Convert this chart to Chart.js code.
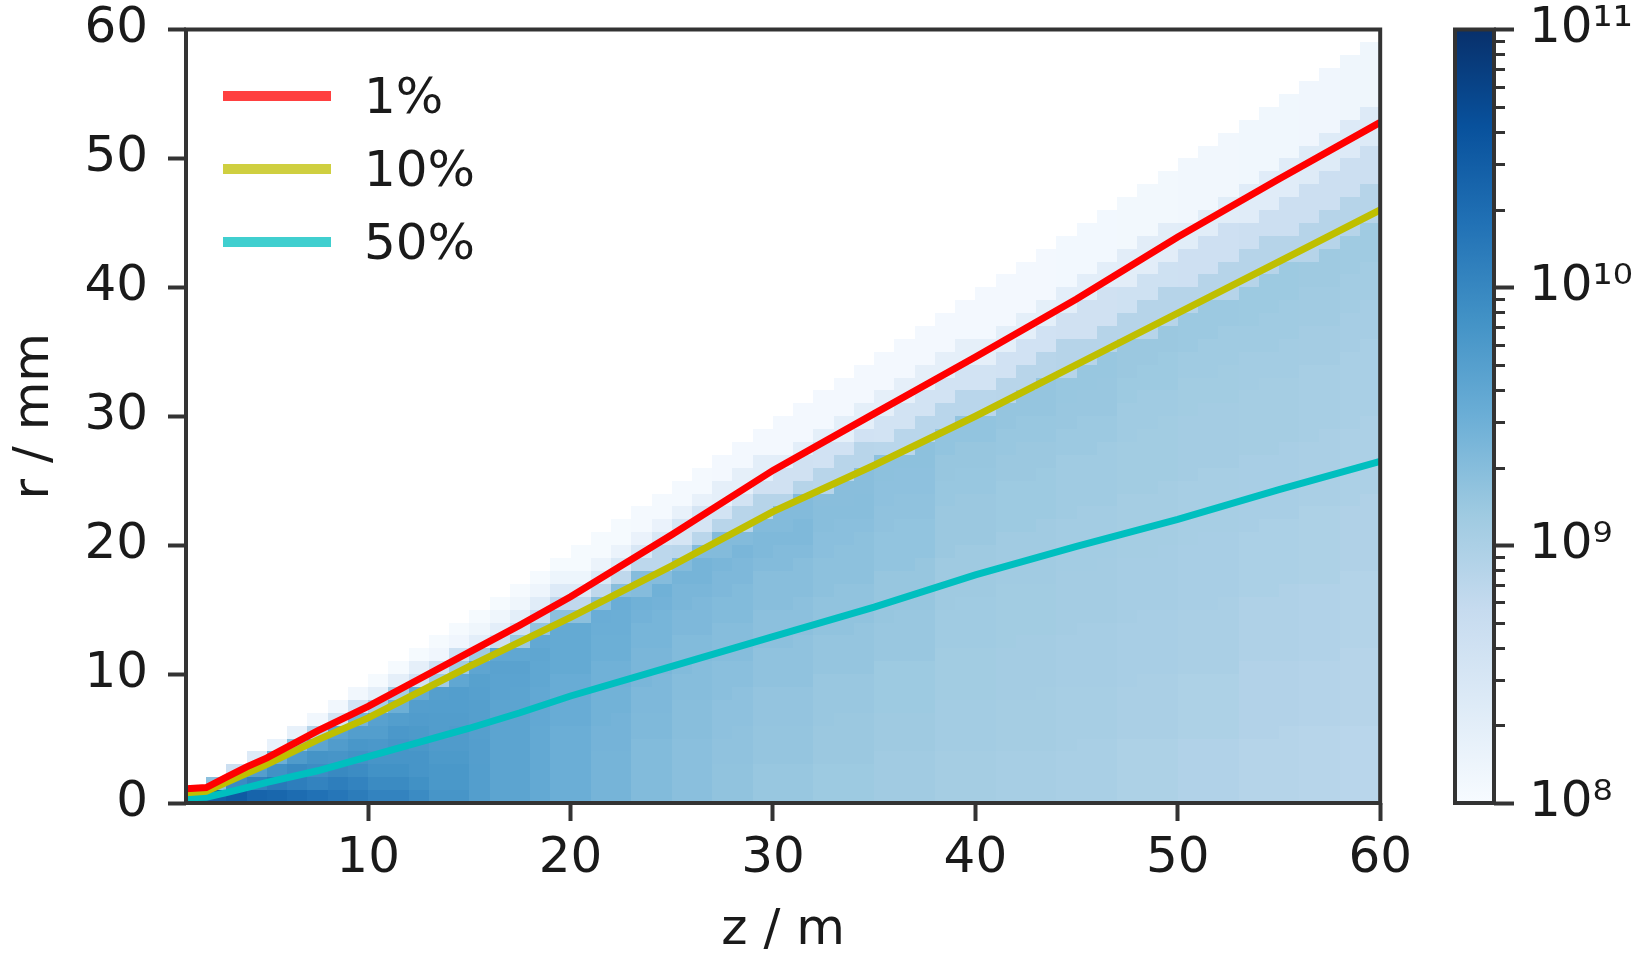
<!DOCTYPE html>
<html>
<head>
<meta charset="utf-8">
<script src="https://cdn.jsdelivr.net/npm/chart.js@4.4.1/dist/chart.umd.min.js"></script>
<style>
html,body{margin:0;padding:0;background:#fff;}
#wrap{position:relative;width:1651px;height:953px;overflow:hidden;background:#fff;}
#main{position:absolute;left:0;top:0;}
#cbar{position:absolute;left:1420px;top:0;}
#legend{position:absolute;font-family:'DejaVu Sans';font-size:50px;color:#1a1a1a;}
#legend .item{display:flex;align-items:center;height:73px;line-height:50px;}
#legend .swatch{width:108px;height:10px;margin-right:33px;}
</style>
</head>
<body>
<div id="wrap">
<canvas id="main" width="1420" height="953"></canvas>
<canvas id="cbar" width="231" height="953"></canvas>
<div id="legend"></div>
</div>
<script>
// ---------------- data ----------------
// contour lines (r in mm at distance z in m)
const zLine  = [1, 2, 3, 4, 5, 7.5, 10, 12.5, 15, 17.5, 20, 25, 30, 35, 40, 45, 50, 55, 60];
const r1pct  = [1.1, 1.2, 2.0, 2.8, 3.5, 5.6, 7.5, 9.6, 11.7, 13.8, 16.0, 20.8, 25.8, 30.2, 34.6, 39.1, 43.9, 48.4, 52.8];
const r10pct = [0.8, 0.9, 1.6, 2.3, 3.0, 4.9, 6.6, 8.6, 10.6, 12.5, 14.4, 18.4, 22.6, 26.2, 30.0, 34.0, 38.0, 42.0, 46.0];
const r50pct = [0.4, 0.45, 0.8, 1.2, 1.6, 2.5, 3.6, 4.7, 5.8, 7.0, 8.3, 10.6, 12.9, 15.2, 17.7, 19.9, 22.0, 24.3, 26.5];
const seriesLabels = ['1%', '10%', '50%'];

// heat map: log10 density read at these z (m) ...
const zSamples = [1.5, 2.5, 3.5, 4.5, 5.5, 6.5, 7.5, 8.5, 9.5, 11, 12.5, 14, 15.5, 17, 18.5, 20,
                  22, 24, 26, 28, 30, 33, 36, 39, 42, 45, 48, 51, 54, 57, 59.5];
// ... in bands of r/z (mm per m), upper edge of each band
const sEdges = [0.1, 0.2, 0.3, 0.4, 0.5, 0.6, 0.65, 0.7, 0.75, 0.8, 0.85, 0.9, 0.99];
const logDensity = [
  [10.85,10.79,10.64,10.46,10.25,9.86,9.50,9.20,8.84,8.45,8.24,8.09,8.03],
  [10.70,10.64,10.46,10.25,9.95,9.56,9.26,8.96,8.60,8.30,8.15,8.06,8.03],
  [10.58,10.52,10.34,10.16,9.95,9.65,9.35,9.05,8.66,8.36,8.15,8.06,8.03],
  [10.46,10.40,10.22,10.07,9.92,9.71,9.44,9.14,8.72,8.39,8.18,8.06,8.03],
  [10.37,10.31,10.16,10.01,9.89,9.74,9.50,9.20,8.78,8.45,8.21,8.06,8.03],
  [10.31,10.23,10.10,9.97,9.87,9.76,9.58,9.28,8.86,8.49,8.23,8.08,8.03],
  [10.25,10.16,10.04,9.93,9.85,9.76,9.63,9.34,8.92,8.52,8.24,8.09,8.03],
  [10.19,10.10,9.98,9.89,9.83,9.74,9.65,9.38,8.96,8.54,8.24,8.09,8.03],
  [10.13,10.04,9.94,9.87,9.81,9.72,9.65,9.42,9.00,8.56,8.26,8.09,8.03],
  [10.04,9.96,9.88,9.83,9.79,9.72,9.67,9.49,9.05,8.58,8.27,8.09,8.03],
  [9.95,9.89,9.83,9.80,9.77,9.74,9.71,9.56,9.08,8.60,8.27,8.09,8.03],
  [9.83,9.80,9.77,9.75,9.73,9.72,9.70,9.60,9.10,8.62,8.29,8.11,8.03],
  [9.72,9.72,9.71,9.70,9.70,9.69,9.68,9.62,9.12,8.64,8.30,8.12,8.03],
  [9.64,9.64,9.64,9.64,9.64,9.65,9.66,9.60,9.14,8.66,8.30,8.12,8.03],
  [9.57,9.57,9.57,9.58,9.58,9.60,9.61,9.58,9.20,8.73,8.34,8.13,8.03],
  [9.50,9.50,9.50,9.53,9.53,9.56,9.56,9.56,9.26,8.81,8.39,8.15,8.03],
  [9.42,9.42,9.43,9.45,9.46,9.49,9.50,9.51,9.29,8.82,8.43,8.18,8.03],
  [9.33,9.33,9.35,9.36,9.39,9.41,9.44,9.46,9.31,8.84,8.47,8.20,8.04],
  [9.27,9.27,9.29,9.30,9.33,9.36,9.39,9.42,9.32,8.86,8.52,8.23,8.05],
  [9.22,9.23,9.24,9.27,9.30,9.33,9.36,9.39,9.32,8.88,8.56,8.27,8.06],
  [9.17,9.19,9.20,9.23,9.26,9.29,9.32,9.35,9.32,8.90,8.60,8.30,8.06],
  [9.13,9.15,9.16,9.19,9.22,9.25,9.27,9.29,9.28,8.88,8.58,8.28,8.06],
  [9.10,9.12,9.13,9.16,9.18,9.21,9.23,9.24,9.25,8.87,8.57,8.27,8.06],
  [9.06,9.08,9.09,9.11,9.12,9.15,9.17,9.18,9.21,8.87,8.57,8.27,8.06],
  [9.04,9.06,9.07,9.09,9.10,9.13,9.15,9.17,9.19,8.88,8.58,8.28,8.06],
  [9.02,9.04,9.05,9.07,9.08,9.11,9.14,9.16,9.17,8.90,8.60,8.30,8.07],
  [8.98,9.01,9.03,9.05,9.06,9.09,9.11,9.13,9.15,8.90,8.62,8.32,8.08],
  [8.95,8.98,9.01,9.03,9.04,9.07,9.09,9.11,9.14,8.90,8.63,8.33,8.09],
  [8.91,8.94,8.97,9.00,9.03,9.06,9.08,9.11,9.13,8.90,8.65,8.35,8.10],
  [8.89,8.92,8.95,8.98,9.01,9.04,9.07,9.10,9.12,8.90,8.66,8.37,8.11],
  [8.87,8.90,8.93,8.96,8.99,9.02,9.05,9.08,9.11,8.90,8.66,8.39,8.12]
];

// axes ticks
const xTicks = [10, 20, 30, 40, 50, 60];
const yTicks = [0, 10, 20, 30, 40, 50, 60];
const cbTicks = [1e8, 1e9, 1e10, 1e11];
const cbTickLabels = ['10\u2078', '10\u2079', '10\u00B9\u2070', '10\u00B9\u00B9'];
const cbRange = [1e8, 1e11];

// ---------------- presentation ----------------
const gridZ = {from: 1, to: 60, step: 1};   // heat-map cell grid
const gridR = {from: 0, to: 60, step: 1};
const lineColors = ['#ff0000', '#bfbf00', '#00bfbf'];
const bluesStops = ['#f7fbff','#deebf7','#c6dbef','#9ecae1','#6baed6','#4292c6','#2171b5','#08519c','#08306b'];
const INK = '#1a1a1a', SPINE = '#333333';
const FONT = "'DejaVu Sans'";

Chart.defaults.font.family = FONT;
Chart.defaults.font.size = 50;
Chart.defaults.color = INK;

function hexToRgb(h){ return [parseInt(h.slice(1,3),16), parseInt(h.slice(3,5),16), parseInt(h.slice(5,7),16)]; }
const bluesRgb = bluesStops.map(hexToRgb);
function blues(t){
  t = Math.max(0, Math.min(1, t));
  const p = t * (bluesRgb.length - 1);
  const i = Math.min(Math.floor(p), bluesRgb.length - 2);
  const f = p - i;
  const a = bluesRgb[i], b = bluesRgb[i+1];
  return 'rgb(' + [0,1,2].map(k => Math.round(a[k] + (b[k]-a[k])*f)).join(',') + ')';
}
const logMin = Math.log10(cbRange[0]), logMax = Math.log10(cbRange[1]);

const heatmapPlugin = {
  id: 'heatmap',
  beforeDatasetsDraw(chart){
    const {ctx, chartArea, scales:{x, y}} = chart;
    ctx.save();
    ctx.beginPath();
    ctx.rect(chartArea.left, chartArea.top, chartArea.right - chartArea.left, chartArea.bottom - chartArea.top);
    ctx.clip();
    for (let z0 = gridZ.from; z0 < gridZ.to; z0 += gridZ.step) {
      const z1 = z0 + gridZ.step, zc = (z0 + z1) / 2;
      let iz = 0, best = Infinity;
      zSamples.forEach((zs, i) => { const d = Math.abs(zs - zc); if (d < best) { best = d; iz = i; } });
      const px0 = Math.round(x.getPixelForValue(z0)), px1 = Math.round(x.getPixelForValue(z1));
      for (let r0 = gridR.from; r0 < gridR.to; r0 += gridR.step) {
        const r1 = r0 + gridR.step, s = ((r0 + r1) / 2) / zc;
        const k = sEdges.findIndex(e => s < e);
        if (k < 0) continue;
        const v = logDensity[iz][k];
        const py0 = Math.round(y.getPixelForValue(r0)), py1 = Math.round(y.getPixelForValue(r1));
        ctx.fillStyle = blues((v - logMin) / (logMax - logMin));
        ctx.fillRect(px0, py1, px1 - px0, py0 - py1);
      }
    }
    ctx.restore();
  },
  afterDatasetsDraw(chart){
    const {ctx, chartArea} = chart;
    ctx.save();
    ctx.strokeStyle = SPINE;
    ctx.lineWidth = 4;
    ctx.strokeRect(chartArea.left, chartArea.top, chartArea.right - chartArea.left, chartArea.bottom - chartArea.top);
    ctx.restore();
  }
};

function pts(rs){ return zLine.map((z, i) => ({x: z, y: rs[i]})); }

const axisGrid = {display: true, drawOnChartArea: false, drawTicks: true, tickLength: 18, tickWidth: 4, tickColor: SPINE, color: SPINE};

const mainChart = new Chart(document.getElementById('main'), {
  type: 'scatter',
  data: {
    datasets: [r1pct, r10pct, r50pct].map((rs, i) => ({
      label: seriesLabels[i],
      data: pts(rs),
      showLine: true,
      borderColor: lineColors[i],
      backgroundColor: lineColors[i],
      borderWidth: 7,
      pointRadius: 0,
      tension: 0
    }))
  },
  options: {
    responsive: false,
    animation: false,
    events: [],
    layout: {padding: {top: 29.5, right: 39, left: 0, bottom: 0}},
    plugins: {legend: {display: false}, tooltip: {enabled: false}},
    scales: {
      x: {
        type: 'linear', min: 1, max: 60,
        afterBuildTicks: s => { s.ticks = xTicks.map(v => ({value: v})); },
        afterFit: s => { s.height = 150; },
        grid: axisGrid,
        border: {display: false},
        ticks: {padding: 8, color: INK, font: {size: 50, lineHeight: 1.2}, maxRotation: 0, autoSkip: false},
        title: {display: true, text: 'z / m', color: INK, font: {size: 50, lineHeight: 0.88}, padding: {top: 0, bottom: 0}}
      },
      y: {
        type: 'linear', min: 0, max: 60,
        afterBuildTicks: s => { s.ticks = yTicks.map(v => ({value: v})); },
        afterFit: s => { s.width = 186; },
        grid: axisGrid,
        border: {display: false},
        ticks: {padding: 20, color: INK, font: {size: 50, lineHeight: 0.2}, autoSkip: false},
        title: {display: true, text: 'r / mm', color: INK, font: {size: 50, lineHeight: 1.2}, padding: {top: 5, bottom: 0}}
      }
    }
  },
  plugins: [heatmapPlugin]
});

// HTML legend built from the chart's datasets
(function buildLegend(chart){
  const box = document.getElementById('legend');
  const ca = chart.chartArea;
  box.style.left = (ca.left + 37) + 'px';
  box.style.top = (ca.top + 30) + 'px';
  chart.data.datasets.forEach(ds => {
    const item = document.createElement('div');
    item.className = 'item';
    const sw = document.createElement('div');
    sw.className = 'swatch';
    sw.style.background = ds.borderColor;
    sw.style.opacity = '0.75';
    const tx = document.createElement('span');
    tx.textContent = ds.label;
    item.appendChild(sw); item.appendChild(tx);
    box.appendChild(item);
  });
})(mainChart);

// ---------------- colour bar ----------------
const cbarPlugin = {
  id: 'cbarFrame',
  afterDraw(chart){
    const {ctx, chartArea, scales:{y}} = chart;
    ctx.save();
    ctx.strokeStyle = SPINE;
    ctx.lineWidth = 3;
    for (let d = logMin; d < logMax; d++) {
      for (let m = 2; m <= 9; m++) {
        const py = Math.round(y.getPixelForValue(m * Math.pow(10, d))) + 0.5;
        ctx.beginPath();
        ctx.moveTo(chartArea.right, py);
        ctx.lineTo(chartArea.right + 11, py);
        ctx.stroke();
      }
    }
    ctx.lineWidth = 4;
    ctx.strokeRect(chartArea.left, chartArea.top, chartArea.right - chartArea.left, chartArea.bottom - chartArea.top);
    ctx.restore();
  }
};

new Chart(document.getElementById('cbar'), {
  type: 'bar',
  data: {
    labels: [''],
    datasets: [{
      data: [cbRange],
      borderWidth: 0,
      barPercentage: 1,
      categoryPercentage: 1,
      backgroundColor: (c) => {
        const chart = c.chart;
        const y = chart.scales.y;
        if (!chart.chartArea || !y) return bluesStops[4];
        const g = chart.ctx.createLinearGradient(0, y.getPixelForValue(cbRange[0]), 0, y.getPixelForValue(cbRange[1]));
        bluesStops.forEach((col, k) => g.addColorStop(k / (bluesStops.length - 1), col));
        return g;
      }
    }]
  },
  options: {
    responsive: false,
    animation: false,
    events: [],
    layout: {padding: {top: 29.5, left: 35, right: 0, bottom: 150}},
    plugins: {legend: {display: false}, tooltip: {enabled: false}},
    scales: {
      x: {display: false},
      y: {
        type: 'logarithmic', position: 'right', min: cbRange[0], max: cbRange[1],
        afterBuildTicks: s => { s.ticks = cbTicks.map(v => ({value: v, major: true})); },
        afterFit: s => { s.width = 157; },
        grid: {display: true, drawOnChartArea: false, drawTicks: true, tickLength: 20, tickWidth: 4, tickColor: SPINE, color: SPINE},
        border: {display: false},
        ticks: {padding: 15, color: INK, font: {size: 50, lineHeight: 0.2}, autoSkip: false,
                callback: (v) => cbTickLabels[cbTicks.indexOf(v)]}
      }
    }
  },
  plugins: [cbarPlugin]
});
</script>
</body>
</html>
